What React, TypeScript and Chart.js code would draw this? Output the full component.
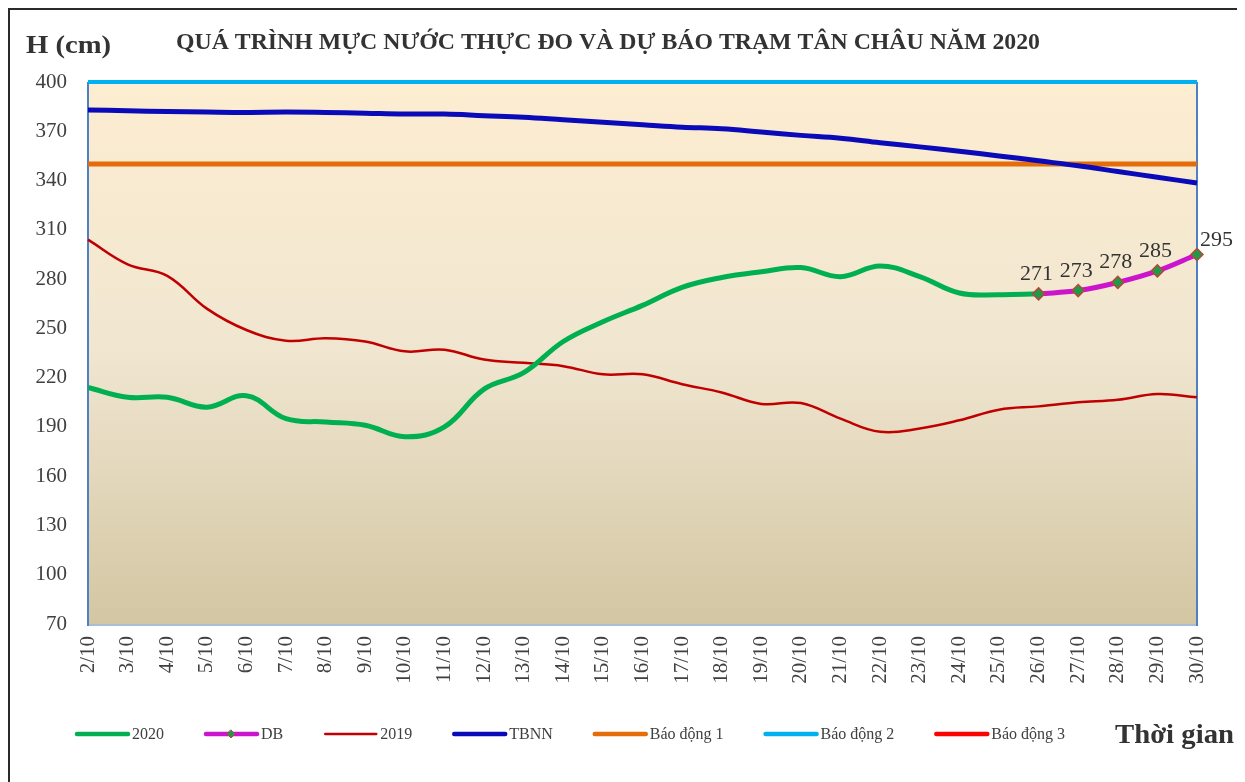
import React, { useEffect, useRef } from 'react';
import { Chart, registerables } from 'chart.js';

Chart.register(...registerables);

const FONT = '"Liberation Serif", "Times New Roman", serif';

const labels = [
  '2/10', '3/10', '4/10', '5/10', '6/10', '7/10', '8/10', '9/10', '10/10', '11/10',
  '12/10', '13/10', '14/10', '15/10', '16/10', '17/10', '18/10', '19/10', '20/10', '21/10',
  '22/10', '23/10', '24/10', '25/10', '26/10', '27/10', '28/10', '29/10', '30/10',
];

const yTicks = [70, 100, 130, 160, 190, 220, 250, 280, 310, 340, 370, 400];

const obs2020 = [
  214, 208, 208, 202, 209, 195, 193, 191, 184, 190,
  213, 223, 242, 254, 264, 275, 281, 284.5, 287, 281.5,
  288, 281.5, 271.5, 270.5, 271, null, null, null, null,
];

const forecastDB = [
  null, null, null, null, null, null, null, null, null, null,
  null, null, null, null, null, null, null, null, null, null,
  null, null, null, null, 271, 273, 278, 285, 295,
];

const obs2019 = [
  304, 289, 282, 262, 249, 242.5, 244, 242, 236, 237,
  231, 229, 227, 222, 222, 216, 211, 204, 204.5, 195,
  187, 189, 194, 200.5, 202.5, 205, 206.5, 210, 208,
];

const tbnn = [
  383, 382.5, 382, 381.7, 381.5, 381.7, 381.5, 381, 380.5, 380.5,
  379.5, 378.5, 377, 375.5, 374, 372.5, 371.5, 369.5, 367.5, 365.8,
  363, 360.5, 357.8, 355, 352, 349, 345.5, 342, 338.5,
];

const alarm1 = [
  350, 350, 350, 350, 350, 350, 350, 350, 350, 350,
  350, 350, 350, 350, 350, 350, 350, 350, 350, 350,
  350, 350, 350, 350, 350, 350, 350, 350, 350,
];

const alarm2 = [
  400, 400, 400, 400, 400, 400, 400, 400, 400, 400,
  400, 400, 400, 400, 400, 400, 400, 400, 400, 400,
  400, 400, 400, 400, 400, 400, 400, 400, 400,
];

const alarm3 = [
  450, 450, 450, 450, 450, 450, 450, 450, 450, 450,
  450, 450, 450, 450, 450, 450, 450, 450, 450, 450,
  450, 450, 450, 450, 450, 450, 450, 450, 450,
];

const TITLE = 'QUÁ TRÌNH MỰC NƯỚC THỰC ĐO VÀ DỰ BÁO TRẠM TÂN CHÂU NĂM 2020';
const Y_TITLE = 'H (cm)';
const X_TITLE = 'Thời gian';

function drawFitted(ctx: CanvasRenderingContext2D, text: string, font: string, x0: number, width: number, baseline: number, color: string) {
  ctx.save();
  ctx.font = font;
  ctx.fillStyle = color;
  ctx.textAlign = 'left';
  ctx.textBaseline = 'alphabetic';
  const w = ctx.measureText(text).width;
  ctx.translate(x0, baseline);
  ctx.scale(width / w, 1);
  ctx.fillText(text, 0, 0);
  ctx.restore();
}

export default function App() {
  const ref = useRef<HTMLCanvasElement>(null);

  useEffect(() => {
    const canvas = ref.current;
    if (!canvas) return;
    const prevOverflow = document.documentElement.style.overflow;
    document.documentElement.style.overflow = 'hidden';

    const bgPlugin = {
      id: 'bgPlugin',
      beforeDatasetsDraw(chart: any) {
        const { ctx, chartArea: a } = chart;
        ctx.save();
        const g = ctx.createLinearGradient(0, a.top, 0, a.bottom);
        g.addColorStop(0, '#FDEDD1');
        g.addColorStop(0.5, '#F0E6D0');
        g.addColorStop(1, '#D3C6A3');
        ctx.fillStyle = g;
        ctx.fillRect(a.left, a.top, a.right - a.left, a.bottom - a.top);
        ctx.lineWidth = 2;
        ctx.strokeStyle = '#A9BDD8';
        ctx.beginPath();
        ctx.moveTo(a.left, a.bottom + 1);
        ctx.lineTo(a.right + 1, a.bottom + 1);
        ctx.stroke();
        ctx.strokeStyle = '#4F7FC4';
        ctx.beginPath();
        ctx.moveTo(a.left, a.top);
        ctx.lineTo(a.left, a.bottom + 2);
        ctx.moveTo(a.right, a.top);
        ctx.lineTo(a.right, a.bottom + 2);
        ctx.stroke();
        ctx.restore();
      },
    };

    const labelPlugin = {
      id: 'labelPlugin',
      afterDatasetsDraw(chart: any) {
        const { ctx } = chart;
        const meta = chart.getDatasetMeta(1);
        const data = chart.data.datasets[1].data as (number | null)[];
        ctx.save();
        ctx.font = `22px ${FONT}`;
        ctx.fillStyle = '#333333';
        ctx.textBaseline = 'alphabetic';
        meta.data.forEach((el: any, i: number) => {
          const v = data[i];
          if (v == null) return;
          const last = i === data.length - 1;
          if (last) {
            ctx.textAlign = 'left';
            ctx.fillText(String(v), el.x + 3, el.y - 8);
          } else {
            ctx.textAlign = 'center';
            ctx.fillText(String(v), el.x - 2, el.y - 14);
          }
        });
        ctx.restore();
      },
      afterDraw(chart: any) {
        const { ctx } = chart;
        drawFitted(ctx, TITLE, `bold 24px ${FONT}`, 166, 864, 39, '#333333');
        drawFitted(ctx, Y_TITLE, `bold 26px ${FONT}`, 16, 85, 43, '#333333');
        drawFitted(ctx, X_TITLE, `bold 27px ${FONT}`, 1105, 119, 733, '#333333');

        // legend
        const y = 724;
        let x = 65;
        ctx.save();
        ctx.font = `16px ${FONT}`;
        ctx.textBaseline = 'middle';
        ctx.textAlign = 'left';
        chart.data.datasets.forEach((ds: any) => {
          ctx.strokeStyle = ds.borderColor;
          ctx.lineWidth = ds.borderWidth < 3 ? 2.5 : 4.5;
          ctx.lineCap = 'round';
          ctx.beginPath();
          ctx.moveTo(x + 2, y);
          ctx.lineTo(x + 53, y);
          ctx.stroke();
          if (ds.pointRadius && ds.pointRadius > 0) {
            const cx = x + 27;
            const r = 4;
            ctx.beginPath();
            ctx.moveTo(cx, y - r);
            ctx.lineTo(cx + r, y);
            ctx.lineTo(cx, y + r);
            ctx.lineTo(cx - r, y);
            ctx.closePath();
            ctx.fillStyle = ds.pointBackgroundColor;
            ctx.fill();
            ctx.lineWidth = 1;
            ctx.strokeStyle = ds.pointBorderColor;
            ctx.stroke();
          }
          ctx.fillStyle = '#404040';
          ctx.fillText(ds.label, x + 57, y + 1);
          const tw = ctx.measureText(ds.label).width;
          x += 57 + tw + 40;
        });
        ctx.restore();
      },
    };

    const chart = new Chart(canvas, {
      type: 'line',
      data: {
        labels,
        datasets: [
          {
            label: '2020',
            data: obs2020,
            borderColor: '#00B050',
            backgroundColor: '#00B050',
            borderWidth: 5,
            pointRadius: 0,
            tension: 0.4,
            order: 1,
            clip: 6,
          },
          {
            label: 'DB',
            data: forecastDB,
            borderColor: '#CC14CC',
            backgroundColor: '#CC14CC',
            borderWidth: 5,
            pointRadius: 6,
            pointStyle: 'rectRot',
            pointBackgroundColor: '#1E9A4A',
            pointBorderColor: '#B04A3A',
            pointBorderWidth: 1.5,
            tension: 0.4,
            order: 0,
            clip: 10,
          },
          {
            label: '2019',
            data: obs2019,
            borderColor: '#C00000',
            backgroundColor: '#C00000',
            borderWidth: 2.5,
            pointRadius: 0,
            tension: 0.4,
            order: 2,
            clip: 6,
          },
          {
            label: 'TBNN',
            data: tbnn,
            borderColor: '#0A0AB8',
            backgroundColor: '#0A0AB8',
            borderWidth: 5,
            pointRadius: 0,
            tension: 0.4,
            order: 3,
            clip: 6,
          },
          {
            label: 'Báo động 1',
            data: alarm1,
            borderColor: '#E46C0A',
            backgroundColor: '#E46C0A',
            borderWidth: 5,
            pointRadius: 0,
            tension: 0,
            order: 4,
            clip: 6,
          },
          {
            label: 'Báo động 2',
            data: alarm2,
            borderColor: '#00B0F0',
            backgroundColor: '#00B0F0',
            borderWidth: 4,
            pointRadius: 0,
            tension: 0,
            order: 5,
            clip: 6,
          },
          {
            label: 'Báo động 3',
            data: alarm3,
            borderColor: '#FF0000',
            backgroundColor: '#FF0000',
            borderWidth: 5,
            pointRadius: 0,
            tension: 0,
            order: 6,
            clip: 3,
          },
        ],
      },
      options: {
        responsive: false,
        animation: false,
        devicePixelRatio: 1,
        layout: { padding: { left: 0, top: 72, right: 48, bottom: 0 } },
        plugins: {
          legend: { display: false },
          title: { display: false },
          tooltip: { enabled: false },
        },
        scales: {
          x: {
            type: 'category',
            offset: false,
            grid: { display: false, drawTicks: false },
            border: { display: false },
            ticks: {
              autoSkip: false,
              minRotation: 90,
              maxRotation: 90,
              padding: 12,
              color: '#404040',
              font: { family: FONT, size: 21 },
            },
            afterFit(scale: any) {
              scale.height = 158;
            },
          },
          y: {
            type: 'linear',
            min: 70,
            max: 400,
            afterBuildTicks(scale: any) {
              scale.ticks = yTicks.map((v) => ({ value: v }));
            },
            grid: { display: false, drawTicks: false },
            border: { display: false },
            ticks: {
              padding: 21,
              color: '#404040',
              font: { family: FONT, size: 21 },
            },
            afterFit(scale: any) {
              scale.width = 78;
            },
          },
        },
      },
      plugins: [bgPlugin, labelPlugin],
    } as any);

    return () => {
      chart.destroy();
      document.documentElement.style.overflow = prevOverflow;
    };
  }, []);

  return (
    <div
      style={{
        position: 'relative',
        width: 1237,
        height: 774,
        boxSizing: 'border-box',
        borderTop: '2px solid #2a2a2a',
        borderLeft: '2px solid #2a2a2a',
        overflow: 'hidden',
        background: '#ffffff',
      }}
    >
      <canvas ref={ref} width={1235} height={772} style={{ position: 'absolute', left: 0, top: 0 }} />
    </div>
  );
}
